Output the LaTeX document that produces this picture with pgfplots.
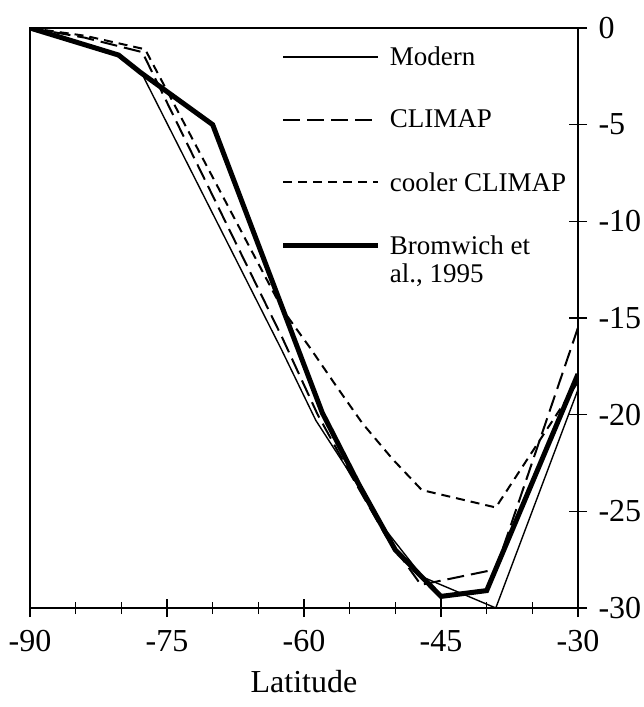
\documentclass[border=0pt]{standalone}
\usepackage{fontspec}
\setmainfont{Liberation Serif}
\usepackage{pgfplots}
\pgfplotsset{compat=1.18}
\pgfplotsset{bromleg/.style={legend image code/.code={\draw[##1] (0pt,14pt) -- (95pt,14pt); \path (102pt,14pt);}}}
\begin{document}
\begin{tikzpicture}
\path[use as bounding box] (-30pt,-99pt) rectangle (614pt,608pt);
\begin{axis}[
  at={(0pt,0pt)}, anchor=south west,
  scale only axis, width=548pt, height=580pt,
  xmin=-90, xmax=-30, ymin=-30, ymax=0,
  xtick={-90,-75,-60,-45,-30}, xticklabels={-90,-75,-60,-45,-30},
  minor xtick={-85,-80,-70,-65,-55,-50,-40,-35},
  ytick={-30,-25,-20,-15,-10,-5,0}, yticklabels={-30,-25,-20,-15,-10,-5,0},
  xtick pos=bottom, ytick pos=right, yticklabel pos=right,
  tick align=center,
  major tick length=18pt, minor tick length=12pt,
  every tick/.style={line width=1.6pt, black},
  axis line style={line width=2pt},
  ticklabel style={font=\fontsize{32}{36}\selectfont},
  xticklabel style={anchor=north, yshift=-10pt},
  yticklabel style={anchor=west, xshift=8pt},
  xlabel={Latitude}, xlabel style={font=\fontsize{32}{36}\selectfont, anchor=north, yshift=-11pt},
  legend style={at={(rel axis cs:0.452,0.975)}, anchor=north west, draw=none, fill=none,
    font=\fontsize{27}{28}\selectfont, row sep=39pt,
    cells={anchor=west, align=left}},
  legend image code/.code={\draw[#1] (0pt,0pt) -- (95pt,0pt); \path (102pt,0pt);},
]
\addplot[black, line width=1.4pt] coordinates {
(-90,0) (-80.3,-1.4) (-77.6,-2.5) (-62.5,-16.6) (-58.7,-20.3) (-55,-23.0) (-51,-26.0) (-47,-28.4) (-39,-30.0) (-30,-18.7)};
\addlegendentry{Modern}
\addplot[black, line width=2pt, dash pattern=on 17pt off 7pt] coordinates {
(-90,0) (-84,-0.5) (-77.7,-1.25) (-62.4,-16.0) (-58.5,-20.0) (-55,-23.0) (-51,-26.3) (-47.2,-28.8) (-39,-28.0) (-30,-15.5)};
\addlegendentry{CLIMAP}
\addplot[black, line width=2pt, dash pattern=on 9pt off 6pt] coordinates {
(-90,0) (-84,-0.4) (-77.4,-1.1) (-62.3,-14.6) (-59.4,-16.5) (-56.5,-18.5) (-53.6,-20.45) (-50.3,-22.3) (-47.1,-23.9) (-39,-24.8) (-30,-18.3)};
\addlegendentry{cooler CLIMAP}
\addplot[black, line width=5pt, bromleg] coordinates {
(-90,0) (-80.3,-1.4) (-77.9,-2.3) (-70,-5.0) (-58,-19.9) (-54,-23.6) (-50,-27.0) (-45,-29.4) (-40,-29.1) (-30,-17.9)};
\addlegendentry{Bromwich et\\al., 1995}
\end{axis}
\end{tikzpicture}
\end{document}
